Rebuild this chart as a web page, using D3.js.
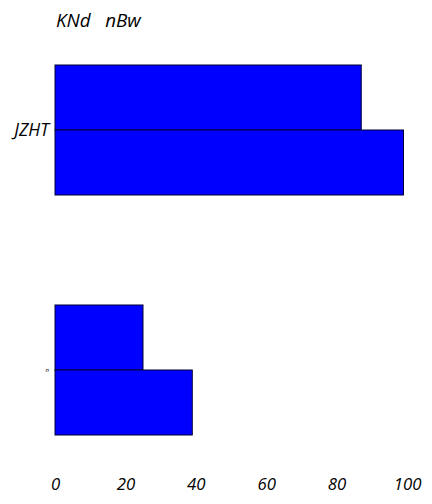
<!DOCTYPE html>
<html><head><meta charset="utf-8">
<script src="https://cdn.jsdelivr.net/npm/d3@7"></script>
<style>body{margin:0;background:#fff}svg{display:block}</style>
</head><body>
<script>
const title = "KNd   nBw";
const categories = ["JZHT", "n"];
const series = ["a", "b"];
const valuesA = [87, 25];
const valuesB = [99, 39];
const xTicks = [0, 20, 40, 60, 80, 100];

const W = 432, H = 504;
const svg = d3.select("body").append("svg").attr("width", W).attr("height", H);
const font = "'Open Sans', sans-serif";

const x = d3.scaleLinear().domain([0, 100]).range([55, 407]);
const y = d3.scaleBand().domain(categories).range([65, 435]).paddingInner(0.4583).paddingOuter(0);
const y1 = d3.scaleBand().domain(series).range([0, y.bandwidth()]);

const data = categories.map((c, i) => ({cat: c, vals: [valuesA[i], valuesB[i]]}));

const g = svg.append("g");
data.forEach(d => {
  d.vals.forEach((v, j) => {
    g.append("rect")
      .attr("x", x(0))
      .attr("y", y(d.cat) + y1(series[j]))
      .attr("width", x(v) - x(0))
      .attr("height", y1.bandwidth())
      .attr("fill", "#0000ff")
      .attr("stroke", "#000033")
      .attr("stroke-width", 1);
  });
});

// x axis (labels only)
const xAxis = svg.append("g").attr("transform", "translate(0,471)")
  .call(d3.axisBottom(x).tickValues(xTicks).tickSize(0).tickPadding(7));
xAxis.select(".domain").remove();
xAxis.selectAll("text").attr("font-family", font).attr("font-size", 16.8).attr("font-style", "italic").attr("fill", "#000");

// y axis labels
const yAxis = svg.append("g").attr("transform", "translate(55,0)")
  .call(d3.axisLeft(y).tickSize(0).tickPadding(6));
yAxis.select(".domain").remove();
yAxis.selectAll("text").attr("font-family", font).attr("font-style", "italic").attr("fill", "#000")
  .attr("font-size", (d) => d === "n" ? 6 : 17.5);

svg.append("text").attr("x", 56).attr("y", 27)
  .attr("font-family", font).attr("font-size", 18.8).attr("font-style", "italic")
  .attr("xml:space", "preserve").style("white-space", "pre")
  .text(title);
</script>
</body></html>
